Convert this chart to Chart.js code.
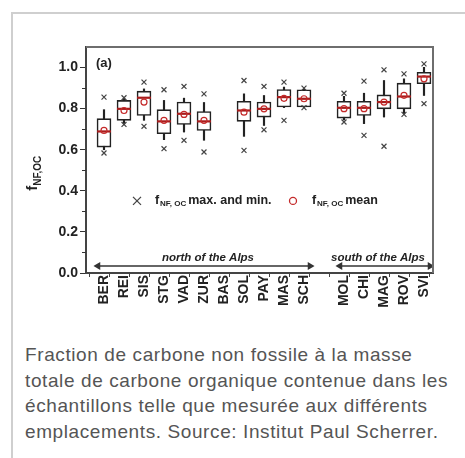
<!DOCTYPE html>
<html>
<head>
<meta charset="utf-8">
<script src="https://cdn.jsdelivr.net/npm/chart.js"></script>
<style>
  body { margin: 0; background: #fff; font-family: "Liberation Sans", Arial, sans-serif; }
  #wrap { position: relative; width: 465px; height: 458px; overflow: hidden; }
  #frame { position: absolute; left: 11px; top: 12px; width: 470px; height: 460px;
           border-left: 2px solid #cfcfcf; border-top: 2px solid #cfcfcf; }
  #chart { position: absolute; left: 0; top: 0; }
  #caption { position: absolute; left: 25px; top: 342px; font-size: 19px; letter-spacing: 0.6px;
             line-height: 25.5px; color: #555; white-space: nowrap; }
</style>
</head>
<body>
<div id="wrap">
  <div id="frame"></div>
  <canvas id="chart" width="465" height="320"></canvas>
  <div id="caption">Fraction de carbone non fossile à la masse<br>totale de carbone organique contenue dans les<br>échantillons telle que mesurée aux différents<br>emplacements. Source: Institut Paul Scherrer.</div>
</div>
<script>
// sites along the x axis, '' is the empty slot between north and south
const sites = ['BER', 'REI', 'SIS', 'STG', 'VAD', 'ZUR', 'BAS', 'SOL', 'PAY', 'MAS', 'SCH', '', 'MOL', 'CHI', 'MAG', 'ROV', 'SVI'];

// fNF,OC statistics per site (null = no data)
const maxVals = [0.856, 0.853, 0.929, 0.892, 0.908, 0.872, null, 0.937, 0.908, 0.929, 0.900, null, 0.875, 0.934, 0.989, 0.969, 1.018];
const whiskHi = [0.795, 0.850, 0.896, 0.840, 0.851, 0.830, null, 0.872, 0.864, 0.905, 0.895, null, 0.860, 0.875, 0.937, 0.945, 1.001];
const q3      = [0.751, 0.840, 0.885, 0.795, 0.832, 0.786, null, 0.836, 0.832, 0.893, 0.892, null, 0.836, 0.836, 0.867, 0.924, 0.977];
const median  = [0.689, 0.799, 0.853, 0.738, 0.775, 0.738, null, 0.791, 0.799, 0.856, 0.848, null, 0.804, 0.804, 0.832, 0.859, 0.956];
const mean    = [0.694, 0.791, 0.832, 0.743, 0.772, 0.743, null, 0.783, 0.799, 0.850, 0.848, null, 0.800, 0.800, 0.832, 0.865, 0.945];
const q1      = [0.613, 0.743, 0.767, 0.678, 0.723, 0.694, null, 0.738, 0.759, 0.808, 0.808, null, 0.754, 0.767, 0.799, 0.799, 0.921];
const whiskLo = [0.600, 0.728, 0.743, 0.649, 0.686, 0.646, null, 0.665, 0.718, 0.805, 0.805, null, 0.745, 0.727, 0.759, 0.775, 0.864];
const minVals = [0.584, 0.723, 0.714, 0.605, 0.646, 0.589, null, 0.597, 0.697, 0.743, 0.805, null, 0.735, 0.670, 0.617, 0.772, 0.824];

// y tick labels
const yTicks = [0, 0.2, 0.4, 0.6, 0.8, 1.0];
const yMinor = [0.1, 0.3, 0.5, 0.7, 0.9];

// region arrows: [start, end] in x units, and height
const northSpan = [0.7, 11.3];
const southSpan = [12.8, 17.3];
const arrowY = 0.034;

const FONT = '"Liberation Sans", Arial, sans-serif';
const RED = '#c42a2a';

const pts = (arr) => arr.map((v, i) => v == null ? null : { x: i + 1, y: v }).filter(Boolean);
const ranges = (lo, hi) => lo.map((v, i) => v == null ? null : { x: i + 1, y: [v, hi[i]] }).filter(Boolean);

const extras = {
  id: 'extras',
  afterDraw(chart) {
    const { ctx, chartArea: a, scales: { x, y } } = chart;
    ctx.save();
    // top and right frame
    ctx.strokeStyle = '#6e6e6e';
    ctx.lineWidth = 2;
    ctx.beginPath();
    ctx.moveTo(a.left, a.top);
    ctx.lineTo(a.right, a.top);
    ctx.lineTo(a.right, a.bottom);
    ctx.stroke();

    // minor y ticks
    ctx.strokeStyle = '#333';
    ctx.lineWidth = 1;
    yMinor.forEach(v => {
      const py = Math.round(y.getPixelForValue(v)) + 0.5;
      ctx.beginPath();
      ctx.moveTo(a.left - 4, py);
      ctx.lineTo(a.left, py);
      ctx.stroke();
    });

    ctx.fillStyle = '#222';
    ctx.textBaseline = 'middle';
    // panel label
    ctx.font = 'bold 13px ' + FONT;
    ctx.textAlign = 'left';
    ctx.fillText('(a)', x.getPixelForValue(0.6), y.getPixelForValue(1.02));

    // region labels
    ctx.font = 'italic bold 11.5px ' + FONT;
    ctx.textAlign = 'center';
    ctx.fillText('north of the Alps', x.getPixelForValue(6.2), y.getPixelForValue(0.073));
    ctx.fillText('south of the Alps', x.getPixelForValue(14.7), y.getPixelForValue(0.073));

    // legend
    const ly = y.getPixelForValue(0.351);
    const cx = x.getPixelForValue(2.65);
    ctx.strokeStyle = '#444';
    ctx.lineWidth = 1.3;
    ctx.beginPath();
    ctx.moveTo(cx - 4, ly - 4); ctx.lineTo(cx + 4, ly + 4);
    ctx.moveTo(cx + 4, ly - 4); ctx.lineTo(cx - 4, ly + 4);
    ctx.stroke();
    const sub = (tx, rest) => {
      ctx.textAlign = 'left';
      ctx.font = 'bold 12.5px ' + FONT;
      ctx.fillText('f', tx, ly);
      ctx.font = 'bold 8px ' + FONT;
      ctx.fillText('NF, OC', tx + 5, ly + 3);
      const w = ctx.measureText('NF, OC').width;
      ctx.font = 'bold 12.5px ' + FONT;
      ctx.fillText(rest, tx + 7 + w, ly);
    };
    sub(x.getPixelForValue(3.55), 'max. and min.');
    const mx = x.getPixelForValue(10.45);
    ctx.strokeStyle = RED;
    ctx.beginPath();
    ctx.arc(mx, ly, 3.5, 0, Math.PI * 2);
    ctx.stroke();
    sub(x.getPixelForValue(11.4), 'mean');

    // y axis title
    ctx.translate(33, y.getPixelForValue(0.4));
    ctx.rotate(-Math.PI / 2);
    ctx.textAlign = 'left';
    ctx.font = 'bold 15px ' + FONT;
    ctx.fillText('f', 0, 0);
    ctx.font = 'bold 10px ' + FONT;
    ctx.fillText('NF,OC', 5, 5);
    ctx.restore();
  }
};

new Chart(document.getElementById('chart'), {
  type: 'bar',
  data: {
    datasets: [
      {
        type: 'scatter', data: pts(maxVals).concat(pts(minVals)), order: 1,
        pointStyle: 'crossRot', pointRadius: 3.5, borderColor: '#444', borderWidth: 1.2, backgroundColor: '#444'
      },
      {
        type: 'scatter', data: pts(mean), order: 2,
        pointStyle: 'circle', pointRadius: 3, borderColor: RED, borderWidth: 1.2, backgroundColor: 'rgba(0,0,0,0)'
      },
      {
        type: 'scatter', data: pts(median), order: 3,
        pointStyle: 'line', pointRadius: 7, borderColor: '#a81c1c', borderWidth: 2.2
      },
      {
        data: ranges(q1, q3), order: 4, grouped: false, barThickness: 14,
        backgroundColor: '#fff', borderColor: '#222', borderWidth: 1.6, borderSkipped: false
      },
      {
        data: ranges(whiskLo, whiskHi), order: 5, grouped: false, barThickness: 1.5,
        backgroundColor: '#222', borderWidth: 0
      },
      {
        type: 'line', data: [{ x: northSpan[0], y: arrowY }, { x: northSpan[1], y: arrowY }], order: 6,
        borderColor: '#333', borderWidth: 1.5, pointStyle: 'triangle', pointRadius: 3,
        pointRotation: [-90, 90], pointBackgroundColor: '#333', pointBorderColor: '#333'
      },
      {
        type: 'line', data: [{ x: southSpan[0], y: arrowY }, { x: southSpan[1], y: arrowY }], order: 6,
        borderColor: '#333', borderWidth: 1.5, pointStyle: 'triangle', pointRadius: 3,
        pointRotation: [-90, 90], pointBackgroundColor: '#333', pointBorderColor: '#333'
      }
    ]
  },
  options: {
    responsive: false,
    animation: false,
    events: [],
    layout: { padding: { left: 0, top: 47, right: 32, bottom: 7 } },
    plugins: { legend: { display: false }, tooltip: { enabled: false } },
    scales: {
      x: {
        type: 'linear', offset: false, min: 0.1, max: 17.45,
        afterBuildTicks: (s) => {
          const t = [];
          for (let i = 1; i <= 35; i++) t.push({ value: i / 2 });
          s.ticks = t;
        },
        afterFit: (s) => { s.height = 40; },
        border: { color: '#444', width: 2 },
        grid: {
          drawOnChartArea: false, tickLength: 4, tickWidth: 1,
          tickColor: (c) => (c.tick && !Number.isInteger(c.tick.value)) ? '#444' : 'rgba(0,0,0,0)'
        },
        ticks: {
          autoSkip: false, minRotation: 90, maxRotation: 90, padding: -2,
          color: '#222', font: { family: FONT, size: 14, weight: 'bold' },
          callback: (v) => Number.isInteger(v) ? (sites[v - 1] || '') : ''
        }
      },
      y: {
        min: 0, max: 1.1,
        afterBuildTicks: (s) => { s.ticks = yTicks.map(v => ({ value: v })); },
        afterFit: (s) => { s.width = 86; },
        border: { color: '#444', width: 2 },
        grid: { drawOnChartArea: false, tickLength: 6, tickWidth: 1, tickColor: '#333' },
        ticks: {
          padding: 2, color: '#222',
          font: { family: FONT, size: 14, weight: 'bold' },
          callback: (v) => v.toFixed(1)
        }
      }
    }
  },
  plugins: [extras]
});
</script>
</body>
</html>
